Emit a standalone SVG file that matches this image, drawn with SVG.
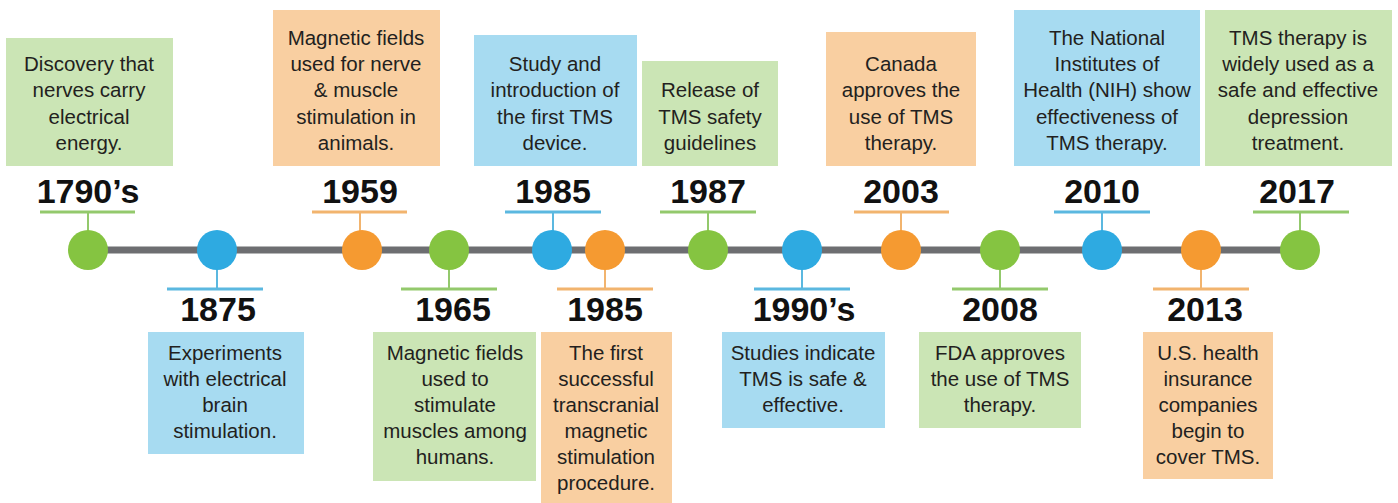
<svg xmlns="http://www.w3.org/2000/svg" width="1398" height="503" viewBox="0 0 1398 503">
<style>
.bg{fill:#ffffff}
.bx-g{fill:#cbe5b5}
.bx-b{fill:#a7dbf1}
.bx-o{fill:#f9cfa1}
.c-g{fill:#85c441}
.c-b{fill:#2eaae1}
.c-o{fill:#f59a31}
.s-g{stroke:#93c96c;stroke-width:3;fill:none}
.s-b{stroke:#5bb8e0;stroke-width:3;fill:none}
.s-o{stroke:#f2b46e;stroke-width:3;fill:none}
.t-g{stroke:#93c96c;stroke-width:2;fill:none}
.t-b{stroke:#5bb8e0;stroke-width:2;fill:none}
.t-o{stroke:#f2b46e;stroke-width:2;fill:none}
.txt{font-family:"Liberation Sans",Arial,sans-serif;font-size:20.5px;fill:#231f20;text-anchor:middle}
.yr{font-family:"Liberation Sans",Arial,sans-serif;font-size:34px;font-weight:bold;fill:#111111;text-anchor:middle}
</style>
<rect class="bg" x="0" y="0" width="1398" height="503"/>
<g id="connectors">
<line x1="88" y1="250" x2="1300" y2="250" stroke="#6d6e71" stroke-width="7"/>
<line class="t-g" x1="88" y1="212" x2="88" y2="232"/>
<line class="t-b" x1="217" y1="268" x2="217" y2="289"/>
<line class="t-o" x1="360" y1="212" x2="360" y2="232"/>
<line class="t-g" x1="449" y1="268" x2="449" y2="289"/>
<line class="t-b" x1="553" y1="212" x2="553" y2="232"/>
<line class="t-o" x1="605" y1="268" x2="605" y2="289"/>
<line class="t-g" x1="708" y1="212" x2="708" y2="232"/>
<line class="t-b" x1="802" y1="268" x2="802" y2="289"/>
<line class="t-o" x1="901" y1="212" x2="901" y2="232"/>
<line class="t-g" x1="1000" y1="268" x2="1000" y2="289"/>
<line class="t-b" x1="1102" y1="212" x2="1102" y2="232"/>
<line class="t-o" x1="1201" y1="268" x2="1201" y2="289"/>
<line class="t-g" x1="1300" y1="212" x2="1300" y2="232"/>
</g>
<g id="n1790">
<rect class="bx-g" x="6" y="38" width="167" height="128"/>
<text class="txt" x="89" y="71">Discovery that</text>
<text class="txt" x="89" y="97">nerves carry</text>
<text class="txt" x="89" y="124">electrical</text>
<text class="txt" x="89" y="150">energy.</text>
<text class="yr" x="88" y="203">1790’s</text>
<line class="s-g" x1="40" y1="212" x2="135" y2="212"/>
<circle class="c-g" cx="88" cy="250" r="20"/>
</g>
<g id="n1875">
<circle class="c-b" cx="217" cy="250" r="20"/>
<line class="s-b" x1="167" y1="289" x2="263" y2="289"/>
<text class="yr" x="218" y="321">1875</text>
<rect class="bx-b" x="148" y="332" width="156" height="122"/>
<text class="txt" x="225" y="360">Experiments</text>
<text class="txt" x="225" y="386">with electrical</text>
<text class="txt" x="225" y="412">brain</text>
<text class="txt" x="225" y="438">stimulation.</text>
</g>
<g id="n1959">
<rect class="bx-o" x="273" y="10" width="167" height="156"/>
<text class="txt" x="356" y="45">Magnetic fields</text>
<text class="txt" x="356" y="71">used for nerve</text>
<text class="txt" x="356" y="97">&amp; muscle</text>
<text class="txt" x="356" y="124">stimulation in</text>
<text class="txt" x="356" y="150">animals.</text>
<text class="yr" x="360" y="203">1959</text>
<line class="s-o" x1="312" y1="212" x2="407" y2="212"/>
<circle class="c-o" cx="362" cy="250" r="20"/>
</g>
<g id="n1965">
<circle class="c-g" cx="449" cy="250" r="20"/>
<line class="s-g" x1="401" y1="289" x2="497" y2="289"/>
<text class="yr" x="453" y="321">1965</text>
<rect class="bx-g" x="373" y="332" width="163" height="149"/>
<text class="txt" x="455" y="360">Magnetic fields</text>
<text class="txt" x="455" y="386">used to</text>
<text class="txt" x="455" y="412">stimulate</text>
<text class="txt" x="455" y="438">muscles among</text>
<text class="txt" x="455" y="464">humans.</text>
</g>
<g id="n1985a">
<rect class="bx-b" x="474" y="35" width="163" height="131"/>
<text class="txt" x="555" y="71">Study and</text>
<text class="txt" x="555" y="97">introduction of</text>
<text class="txt" x="555" y="124">the first TMS</text>
<text class="txt" x="555" y="150">device.</text>
<text class="yr" x="553" y="203">1985</text>
<line class="s-b" x1="505" y1="212" x2="601" y2="212"/>
<circle class="c-b" cx="552" cy="250" r="20"/>
</g>
<g id="n1985b">
<circle class="c-o" cx="605" cy="250" r="20"/>
<line class="s-o" x1="557" y1="289" x2="653" y2="289"/>
<text class="yr" x="605" y="321">1985</text>
<rect class="bx-o" x="541" y="332" width="131" height="171"/>
<text class="txt" x="606" y="360">The first</text>
<text class="txt" x="606" y="386">successful</text>
<text class="txt" x="606" y="412">transcranial</text>
<text class="txt" x="606" y="438">magnetic</text>
<text class="txt" x="606" y="464">stimulation</text>
<text class="txt" x="606" y="490">procedure.</text>
</g>
<g id="n1987">
<rect class="bx-g" x="642" y="61" width="136" height="105"/>
<text class="txt" x="710" y="97">Release of</text>
<text class="txt" x="710" y="124">TMS safety</text>
<text class="txt" x="710" y="150">guidelines</text>
<text class="yr" x="708" y="203">1987</text>
<line class="s-g" x1="660" y1="212" x2="756" y2="212"/>
<circle class="c-g" cx="708" cy="250" r="20"/>
</g>
<g id="n1990">
<circle class="c-b" cx="802" cy="250" r="20"/>
<line class="s-b" x1="754" y1="289" x2="850" y2="289"/>
<text class="yr" x="804" y="321">1990’s</text>
<rect class="bx-b" x="722" y="332" width="163" height="96"/>
<text class="txt" x="803" y="360">Studies indicate</text>
<text class="txt" x="803" y="386">TMS is safe &amp;</text>
<text class="txt" x="803" y="412">effective.</text>
</g>
<g id="n2003">
<rect class="bx-o" x="826" y="32" width="150" height="134"/>
<text class="txt" x="901" y="71">Canada</text>
<text class="txt" x="901" y="97">approves the</text>
<text class="txt" x="901" y="124">use of TMS</text>
<text class="txt" x="901" y="150">therapy.</text>
<text class="yr" x="901" y="203">2003</text>
<line class="s-o" x1="854" y1="212" x2="949" y2="212"/>
<circle class="c-o" cx="901" cy="250" r="20"/>
</g>
<g id="n2008">
<circle class="c-g" cx="1000" cy="250" r="20"/>
<line class="s-g" x1="952" y1="289" x2="1048" y2="289"/>
<text class="yr" x="1000" y="321">2008</text>
<rect class="bx-g" x="919" y="332" width="162" height="96"/>
<text class="txt" x="1000" y="360">FDA approves</text>
<text class="txt" x="1000" y="386">the use of TMS</text>
<text class="txt" x="1000" y="412">therapy.</text>
</g>
<g id="n2010">
<rect class="bx-b" x="1014" y="10" width="186" height="156"/>
<text class="txt" x="1107" y="45">The National</text>
<text class="txt" x="1107" y="71">Institutes of</text>
<text class="txt" x="1107" y="97">Health (NIH) show</text>
<text class="txt" x="1107" y="124">effectiveness of</text>
<text class="txt" x="1107" y="150">TMS therapy.</text>
<text class="yr" x="1102" y="203">2010</text>
<line class="s-b" x1="1054" y1="212" x2="1150" y2="212"/>
<circle class="c-b" cx="1102" cy="250" r="20"/>
</g>
<g id="n2013">
<circle class="c-o" cx="1201" cy="250" r="20"/>
<line class="s-o" x1="1153" y1="289" x2="1249" y2="289"/>
<text class="yr" x="1205" y="321">2013</text>
<rect class="bx-o" x="1143" y="332" width="130" height="147"/>
<text class="txt" x="1208" y="360">U.S. health</text>
<text class="txt" x="1208" y="386">insurance</text>
<text class="txt" x="1208" y="412">companies</text>
<text class="txt" x="1208" y="438">begin to</text>
<text class="txt" x="1208" y="464">cover TMS.</text>
</g>
<g id="n2017">
<rect class="bx-g" x="1205" y="10" width="187" height="156"/>
<text class="txt" x="1298" y="45">TMS therapy is</text>
<text class="txt" x="1298" y="71">widely used as a</text>
<text class="txt" x="1298" y="97">safe and effective</text>
<text class="txt" x="1298" y="124">depression</text>
<text class="txt" x="1298" y="150">treatment.</text>
<text class="yr" x="1297" y="203">2017</text>
<line class="s-g" x1="1253" y1="212" x2="1349" y2="212"/>
<circle class="c-g" cx="1300" cy="250" r="20"/>
</g>
</svg>
